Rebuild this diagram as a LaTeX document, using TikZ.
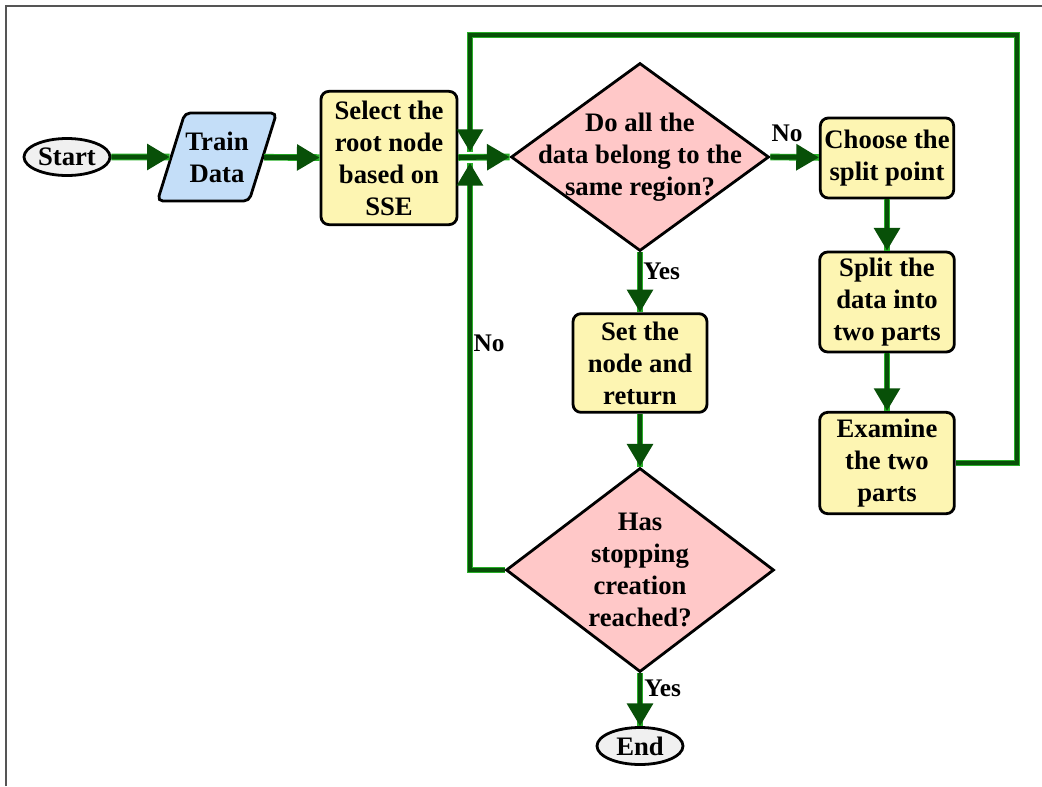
\documentclass[tikz,border=0pt]{standalone}
\usepackage{fontspec}
\setmainfont{Liberation Serif}
\usetikzlibrary{arrows.meta,shapes.geometric}
\definecolor{flowgreen}{RGB}{8,80,8}
\definecolor{halogreen}{RGB}{40,175,40}
\definecolor{boxyellow}{RGB}{253,245,178}
\definecolor{decpink}{RGB}{255,200,200}
\definecolor{ioblue}{RGB}{196,222,248}
\definecolor{termgray}{RGB}{240,240,240}
\definecolor{framegray}{RGB}{85,85,85}

\begin{document}
\begin{tikzpicture}[x=0.75pt,y=-0.75pt,
  every node/.style={font=\fontsize{20}{24}\selectfont\bfseries, align=center, inner sep=0pt},
  outline/.style={draw=black, line width=2.1pt},
  terminal/.style={outline, ellipse, fill=termgray, minimum width=64.5pt, minimum height=27.75pt},
  iobox/.style={outline, trapezium, trapezium left angle=62, trapezium right angle=118,
    trapezium stretches=true, fill=ioblue, rounded corners=4pt,
    minimum width=90pt, minimum height=66pt},
  process/.style={outline, rectangle, rounded corners=6pt, fill=boxyellow},
  decision/.style={outline, diamond, fill=decpink},
  flow/.style={draw=flowgreen, line width=3.7pt, -{Triangle[length=17pt,width=19pt]},
    preaction={draw=halogreen, line width=5pt, -}},
  tag/.style={font=\fontsize{19}{22}\selectfont\bfseries}
]
\useasboundingbox (0,0) rectangle (1042,786);

% page frame (left and top edges)
\draw[framegray, line width=1.5pt] (5.5,786) -- (5.5,6) -- (1042,6);

% nodes
\node[terminal] (start) at (67,157) {Start};
\node[iobox] (train) at (217,157) {Train\\Data};
\node[process, minimum width=102pt, minimum height=100pt] (select) at (389,158)
  {Select the\\root node\\based on\\SSE};
\node[decision, minimum width=193.5pt, minimum height=141pt] (d1) at (640,157) {};
\node (d1text) at (640,157) {Do all the\\data belong to the\\same region?};
\node[process, minimum width=100pt, minimum height=60pt] (choose) at (887,158)
  {Choose the\\split point};
\node[process, minimum width=101pt, minimum height=75pt] (split) at (887,302)
  {Split the\\data into\\two parts};
\node[process, minimum width=101pt, minimum height=76pt] (exam) at (887,463)
  {Examine\\the two\\parts};
\node[process, minimum width=100.5pt, minimum height=74pt] (set) at (640,363)
  {Set the\\node and\\return};
\node[decision, minimum width=201pt, minimum height=153pt] (d2) at (640,570) {};
\node (d2text) at (640,570) {Has\\stopping\\creation\\reached?};
\node[terminal] (end) at (640,746) {End};

% junction and loop corners
\coordinate (jtop) at (470,152);
\coordinate (jbot) at (470,163);
\coordinate (loopcorner) at (1017,35);

% connectors
\draw[flow] (start) -- (train);
\draw[flow] (train) -- (select);
\draw[flow] (select) -- (d1.west);
\draw[flow] (d1.east) -- (choose);
\draw[flow] (choose) -- (split);
\draw[flow] (split) -- (exam);
\draw[flow] (exam.east) -| (loopcorner) -| (jtop);
\draw[flow] (d1.south) -- (set);
\draw[flow] (set) -- (d2.north);
\draw[flow] (d2.west) -| (jbot);
\draw[flow] (d2.south) -- (end);

% branch labels
\node[tag] (lno1) at (787,133) {No};
\node[tag, anchor=west] (lyes1) at (643,271) {Yes};
\node[tag, anchor=west] (lyes2) at (644,688) {Yes};
\node[tag] (lno2) at (489,343) {No};
\end{tikzpicture}
\end{document}
